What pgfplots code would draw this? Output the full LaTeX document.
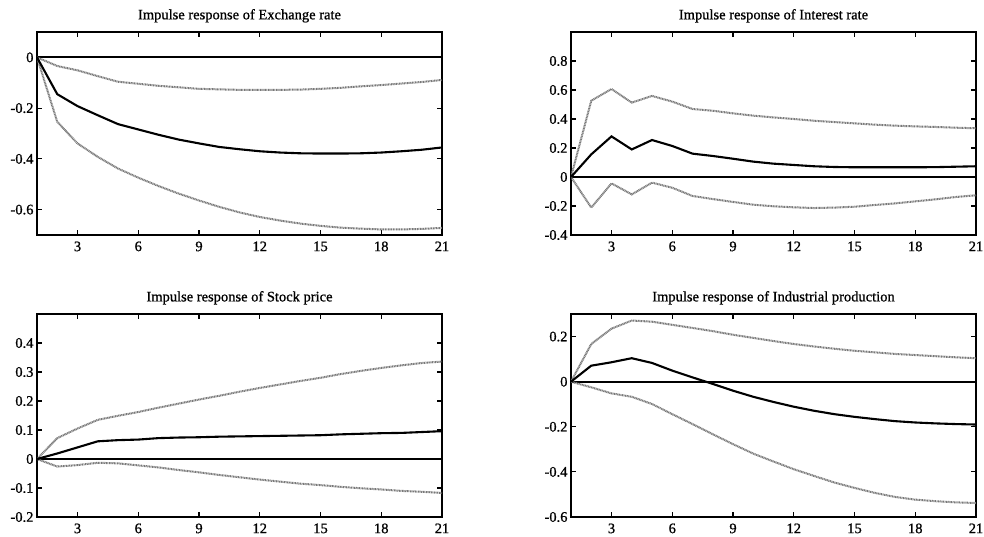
\documentclass[border=0pt]{standalone}
\usepackage{fontspec}
\setmainfont{Liberation Serif}
\newfontface\heavy{Liberation Serif}[FakeBold=0.9]
\usepackage{pgfplots}
\pgfplotsset{compat=1.18}

\definecolor{bandgray}{rgb}{0.47,0.47,0.47}

\pgfplotsset{
  irf/.style={
    scale only axis, width=405pt, height=203pt,
    xmin=1, xmax=21, xtick={3,6,...,21},
    tick align=inside, major tick length=5pt,
    axis line style={line width=1.6pt},
    tick style={black, line width=1.2pt},
    ticklabel style={font=\fontsize{14.5}{16}\heavy},
    xticklabel style={yshift=-3pt},
    title style={font=\fontsize{14.5}{16}\heavy},
    /pgf/number format/assume math mode=true,
    yticklabel style={/pgf/number format/fixed},
  },
  resp/.style={black, line width=2.1pt},
  band/.style={bandgray, line width=2pt, dash pattern=on 1pt off 0.6pt},
  zero/.style={black, line width=1.8pt},
}

\begin{document}
\begin{tikzpicture}
\path[use as bounding box] (0,0) rectangle (984pt,536pt);

% Exchange rate
\begin{axis}[irf, at={(37pt,301pt)}, anchor=south west,
  ymin=-0.7, ymax=0.1, ytick={-0.6,-0.4,-0.2,0},
  title={Impulse response of Exchange rate}]
\addplot[zero] coordinates {(1,0)(21,0)};
\addplot[band] coordinates {(1,0)(2,-0.034)(3,-0.051)(4,-0.074)(5,-0.096)(6,-0.104)(7,-0.112)(8,-0.118)(9,-0.124)(10,-0.126)(11,-0.128)(12,-0.128)(13,-0.128)(14,-0.127)(15,-0.124)(16,-0.12)(17,-0.114)(18,-0.109)(19,-0.103)(20,-0.097)(21,-0.089)};
\addplot[band] coordinates {(1,0)(2,-0.254)(3,-0.339)(4,-0.392)(5,-0.438)(6,-0.474)(7,-0.507)(8,-0.537)(9,-0.564)(10,-0.589)(11,-0.611)(12,-0.629)(13,-0.643)(14,-0.655)(15,-0.664)(16,-0.671)(17,-0.675)(18,-0.678)(19,-0.678)(20,-0.676)(21,-0.672)};
\addplot[resp] coordinates {(1,0)(2,-0.145)(3,-0.192)(4,-0.228)(5,-0.263)(6,-0.284)(7,-0.305)(8,-0.324)(9,-0.339)(10,-0.353)(11,-0.362)(12,-0.37)(13,-0.375)(14,-0.378)(15,-0.379)(16,-0.379)(17,-0.378)(18,-0.375)(19,-0.37)(20,-0.364)(21,-0.355)};
\end{axis}

% Interest rate
\begin{axis}[irf, at={(571pt,301pt)}, anchor=south west,
  ymin=-0.4, ymax=1, ytick={-0.4,-0.2,0,0.2,0.4,0.6,0.8},
  title={Impulse response of Interest rate}]
\addplot[zero] coordinates {(1,0)(21,0)};
\addplot[band] coordinates {(1,0)(2,0.526)(3,0.607)(4,0.513)(5,0.559)(6,0.52)(7,0.469)(8,0.457)(9,0.439)(10,0.423)(11,0.411)(12,0.4)(13,0.388)(14,0.379)(15,0.37)(16,0.361)(17,0.354)(18,0.349)(19,0.345)(20,0.34)(21,0.336)};
\addplot[band] coordinates {(1,0)(2,-0.211)(3,-0.044)(4,-0.12)(5,-0.039)(6,-0.074)(7,-0.131)(8,-0.152)(9,-0.172)(10,-0.191)(11,-0.202)(12,-0.209)(13,-0.214)(14,-0.211)(15,-0.205)(16,-0.193)(17,-0.182)(18,-0.168)(19,-0.154)(20,-0.138)(21,-0.126)};
\addplot[resp] coordinates {(1,0)(2,0.156)(3,0.28)(4,0.19)(5,0.255)(6,0.214)(7,0.161)(8,0.145)(9,0.126)(10,0.106)(11,0.092)(12,0.083)(13,0.074)(14,0.069)(15,0.067)(16,0.067)(17,0.067)(18,0.067)(19,0.068)(20,0.071)(21,0.074)};
\end{axis}

% Stock price
\begin{axis}[irf, at={(37pt,19pt)}, anchor=south west,
  ymin=-0.2, ymax=0.5, ytick={-0.2,-0.1,0,0.1,0.2,0.3,0.4},
  title={Impulse response of Stock price}]
\addplot[zero] coordinates {(1,0)(21,0)};
\addplot[band] coordinates {(1,0)(2,0.072)(3,0.105)(4,0.135)(5,0.149)(6,0.162)(7,0.177)(8,0.191)(9,0.205)(10,0.218)(11,0.232)(12,0.245)(13,0.257)(14,0.269)(15,0.28)(16,0.293)(17,0.304)(18,0.314)(19,0.323)(20,0.331)(21,0.336)};
\addplot[band] coordinates {(1,0)(2,-0.026)(3,-0.021)(4,-0.013)(5,-0.015)(6,-0.022)(7,-0.029)(8,-0.038)(9,-0.046)(10,-0.055)(11,-0.063)(12,-0.071)(13,-0.078)(14,-0.085)(15,-0.09)(16,-0.096)(17,-0.101)(18,-0.105)(19,-0.11)(20,-0.113)(21,-0.117)};
\addplot[resp] coordinates {(1,0)(2,0.019)(3,0.04)(4,0.061)(5,0.065)(6,0.067)(7,0.072)(8,0.074)(9,0.075)(10,0.077)(11,0.078)(12,0.079)(13,0.08)(14,0.081)(15,0.082)(16,0.085)(17,0.087)(18,0.089)(19,0.09)(20,0.093)(21,0.096)};
\end{axis}

% Industrial production
\begin{axis}[irf, at={(571pt,19pt)}, anchor=south west,
  ymin=-0.6, ymax=0.3, ytick={-0.6,-0.4,-0.2,0,0.2},
  title={Impulse response of Industrial production}]
\addplot[zero] coordinates {(1,0)(21,0)};
\addplot[band] coordinates {(1,0)(2,0.167)(3,0.235)(4,0.271)(5,0.266)(6,0.252)(7,0.238)(8,0.224)(9,0.208)(10,0.194)(11,0.18)(12,0.167)(13,0.156)(14,0.146)(15,0.137)(16,0.13)(17,0.123)(18,0.118)(19,0.113)(20,0.108)(21,0.104)};
\addplot[band] coordinates {(1,0)(2,-0.025)(3,-0.052)(4,-0.067)(5,-0.099)(6,-0.144)(7,-0.188)(8,-0.233)(9,-0.277)(10,-0.319)(11,-0.354)(12,-0.388)(13,-0.418)(14,-0.447)(15,-0.471)(16,-0.493)(17,-0.511)(18,-0.523)(19,-0.53)(20,-0.535)(21,-0.538)};
\addplot[resp] coordinates {(1,0)(2,0.071)(3,0.086)(4,0.104)(5,0.083)(6,0.049)(7,0.019)(8,-0.01)(9,-0.04)(10,-0.067)(11,-0.09)(12,-0.111)(13,-0.129)(14,-0.144)(15,-0.156)(16,-0.166)(17,-0.175)(18,-0.181)(19,-0.185)(20,-0.188)(21,-0.19)};
\end{axis}
\end{tikzpicture}
\end{document}
